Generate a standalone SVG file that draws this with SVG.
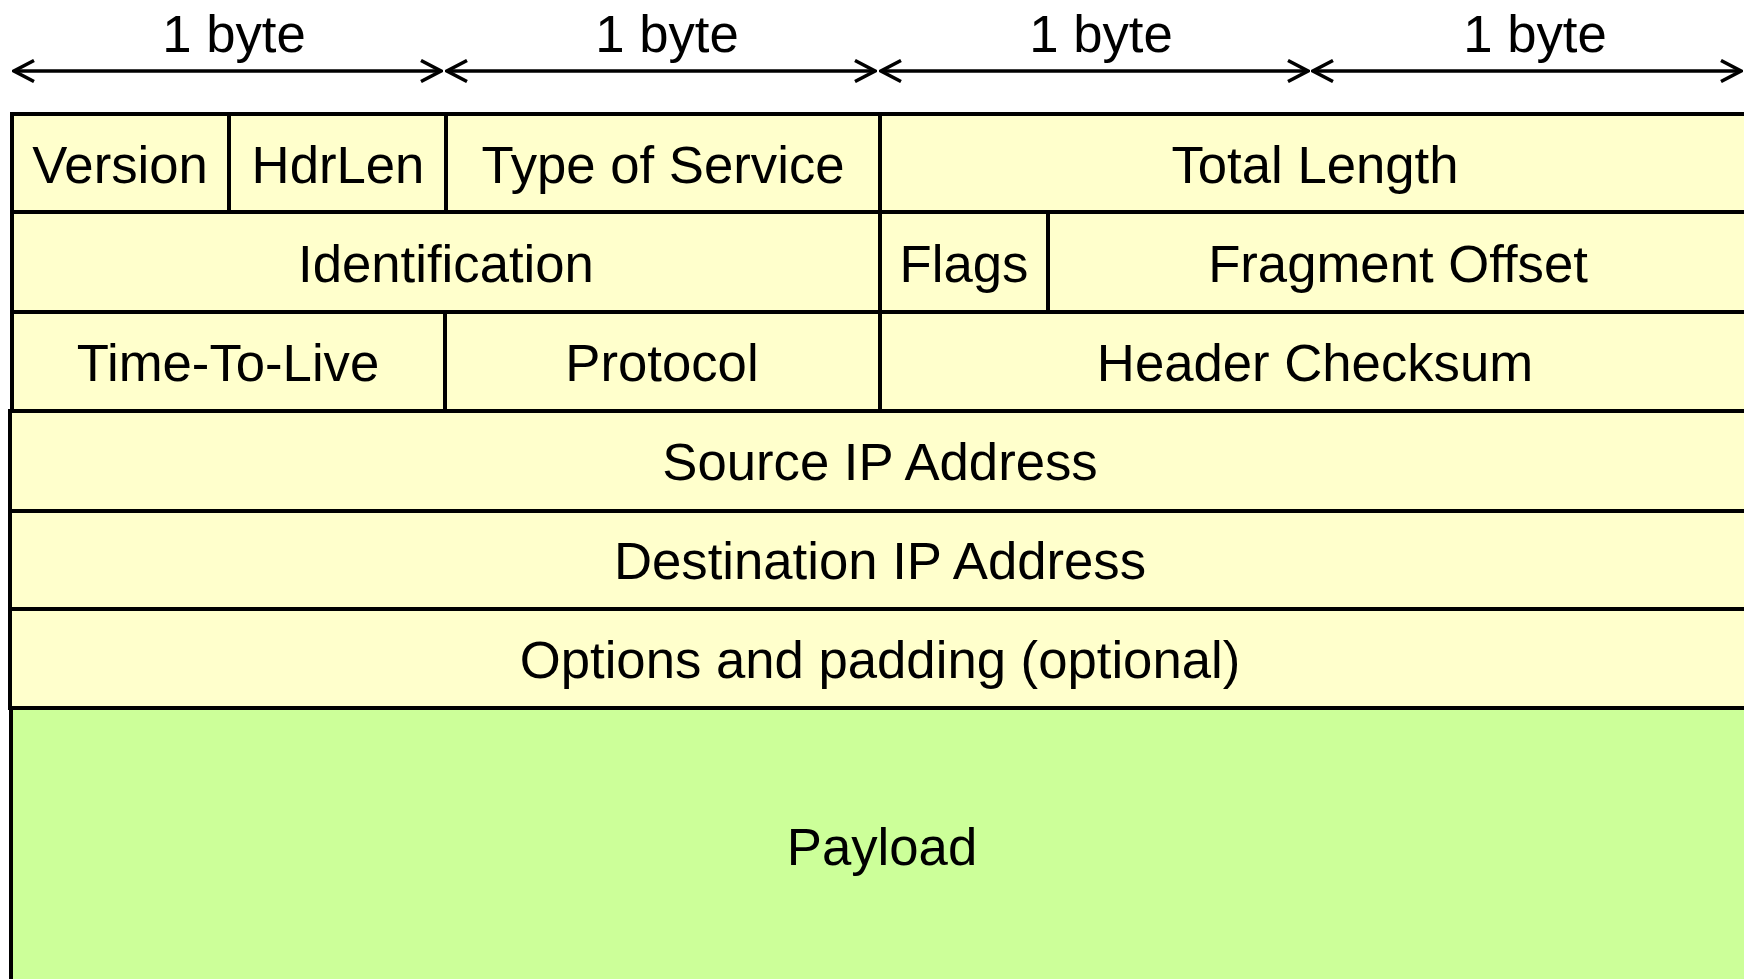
<svg xmlns="http://www.w3.org/2000/svg" width="1744" height="979" viewBox="0 0 1744 979">
<style>
.c{stroke:#000;stroke-width:4}
.y{fill:#FFFFCC}
.g{fill:#CCFF99}
text{font-family:"Liberation Sans",Arial,sans-serif;font-size:52.7px;fill:#000;text-anchor:middle}
.a{stroke:#000;stroke-width:3.5;fill:none}
</style>
<defs>
<marker id="ah" viewBox="0 0 24 24" refX="22" refY="12" markerWidth="24" markerHeight="24" markerUnits="userSpaceOnUse" orient="auto-start-reverse">
<path d="M2,1.5 L22,12 L2,22.5" fill="none" stroke="#000" stroke-width="3.5"/>
</marker>
</defs>
<rect width="1744" height="979" fill="#fff"/>
<g id="connectors">
<line class="a" x1="14" y1="71" x2="441" y2="71" marker-start="url(#ah)" marker-end="url(#ah)"/>
<line class="a" x1="447" y1="71" x2="875" y2="71" marker-start="url(#ah)" marker-end="url(#ah)"/>
<line class="a" x1="881" y1="71" x2="1308" y2="71" marker-start="url(#ah)" marker-end="url(#ah)"/>
<line class="a" x1="1313" y1="71" x2="1741" y2="71" marker-start="url(#ah)" marker-end="url(#ah)"/>
</g>
<g id="byte-labels">
<text x="234" y="52">1 byte</text>
<text x="667" y="52">1 byte</text>
<text x="1101" y="52">1 byte</text>
<text x="1535" y="52">1 byte</text>
</g>
<g id="version"><rect class="c y" x="12" y="114" width="217" height="98"/><text x="120" y="183">Version</text></g>
<g id="hdrlen"><rect class="c y" x="229" y="114" width="217" height="98"/><text x="338" y="183">HdrLen</text></g>
<g id="tos"><rect class="c y" x="446" y="114" width="434" height="98"/><text x="663" y="183">Type of Service</text></g>
<g id="totallength"><rect class="c y" x="880" y="114" width="870" height="98"/><text x="1315" y="183">Total Length</text></g>
<g id="identification"><rect class="c y" x="12" y="212" width="868" height="100"/><text x="446" y="282">Identification</text></g>
<g id="flags"><rect class="c y" x="880" y="212" width="168" height="100"/><text x="964" y="282">Flags</text></g>
<g id="fragoffset"><rect class="c y" x="1048" y="212" width="702" height="100"/><text x="1398" y="282">Fragment Offset</text></g>
<g id="ttl"><rect class="c y" x="12" y="312" width="433" height="99"/><text x="228" y="381">Time-To-Live</text></g>
<g id="protocol"><rect class="c y" x="445" y="312" width="435" height="99"/><text x="662" y="381">Protocol</text></g>
<g id="checksum"><rect class="c y" x="880" y="312" width="870" height="99"/><text x="1315" y="381">Header Checksum</text></g>
<g id="srcip"><rect class="c y" x="10" y="411" width="1740" height="100"/><text x="880" y="480">Source IP Address</text></g>
<g id="dstip"><rect class="c y" x="10" y="511" width="1740" height="98"/><text x="880" y="579">Destination IP Address</text></g>
<g id="options"><rect class="c y" x="10" y="609" width="1740" height="99"/><text x="880" y="678">Options and padding (optional)</text></g>
<g id="payload"><rect class="c g" x="11" y="708" width="1739" height="300"/><text x="882" y="865">Payload</text></g>
</svg>
